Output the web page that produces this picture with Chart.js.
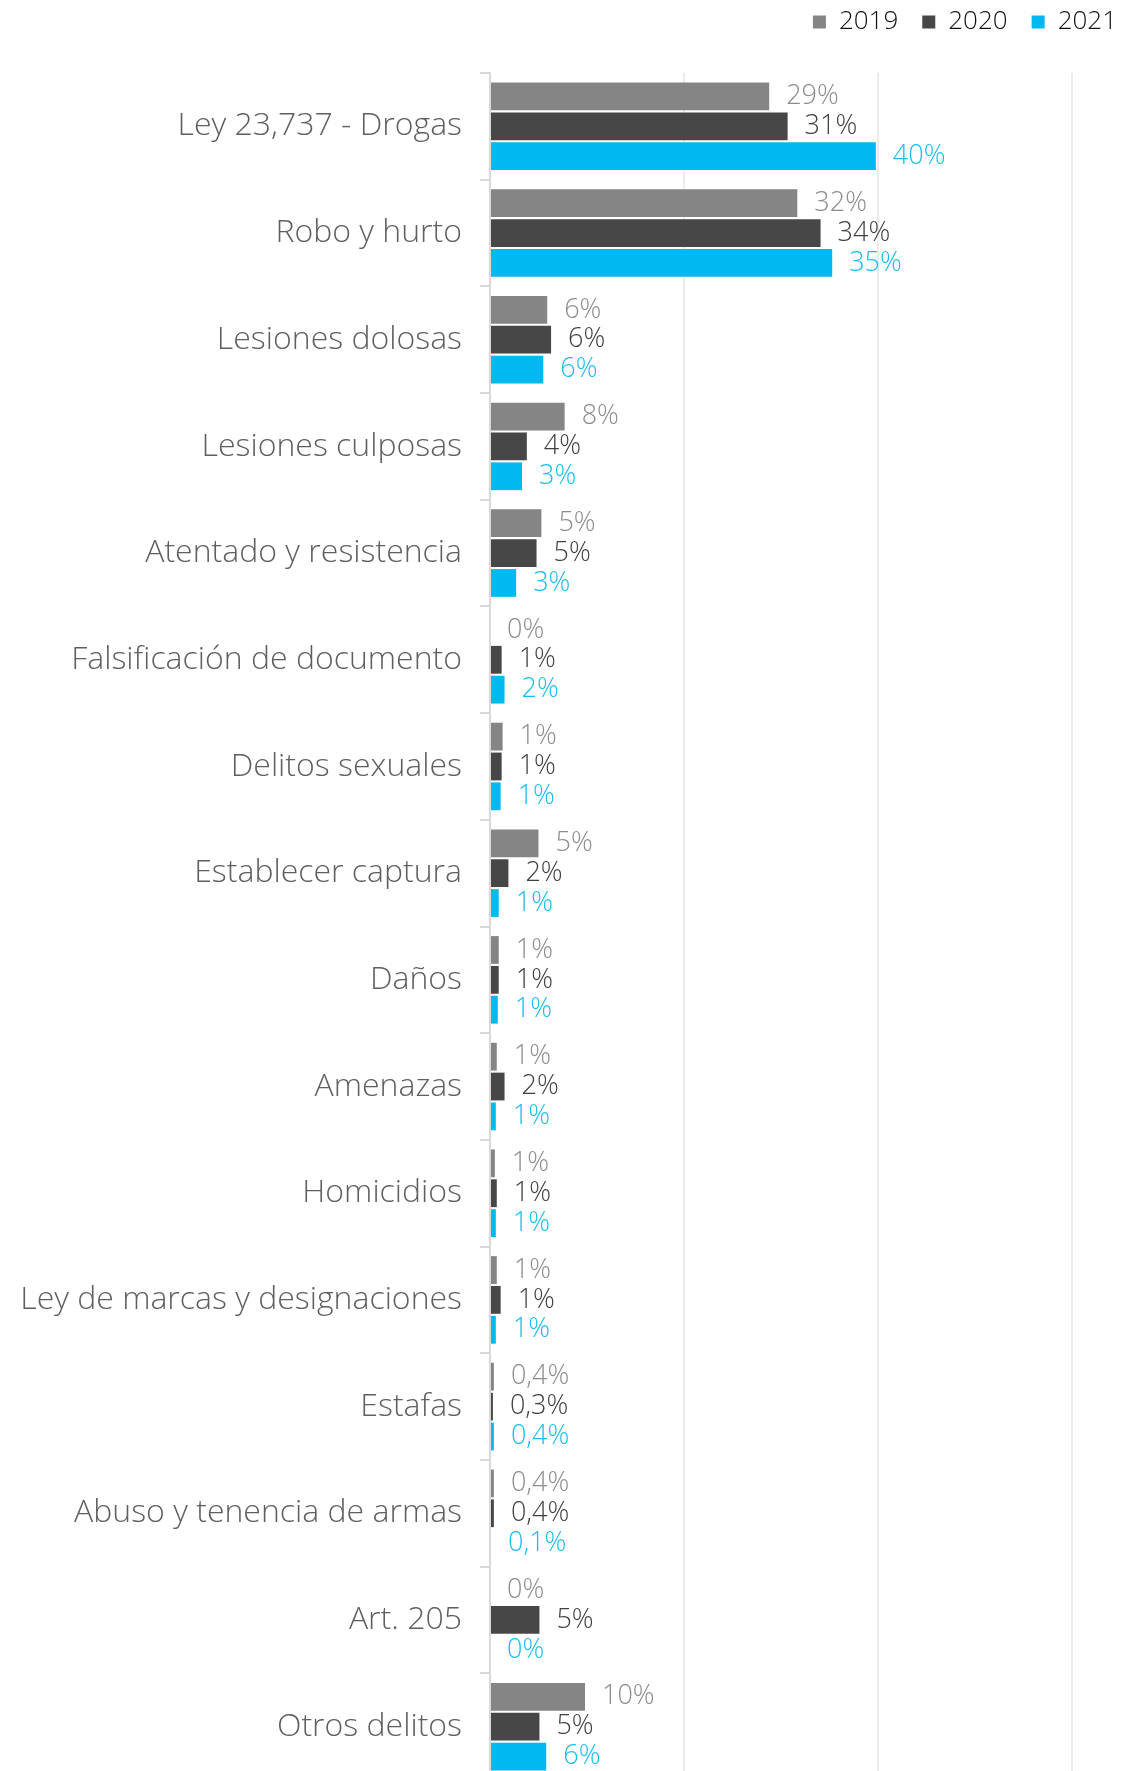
<!DOCTYPE html>
<html>
<head>
<meta charset="utf-8">
<script src="https://cdn.jsdelivr.net/npm/chart.js@4/dist/chart.umd.min.js"></script>
<style>
  body { margin: 0; background: #fff; overflow: hidden; }
  /* the plot runs a little past the bottom edge, as in the source image */
  #wrap { width: 1124px; height: 1771px; overflow: hidden; }
</style>
</head>
<body>
<div id="wrap"><canvas id="chart" width="1124" height="1780"></canvas></div>
<script>
// categories, top to bottom
var categories = [
  "Ley 23,737 - Drogas", "Robo y hurto", "Lesiones dolosas", "Lesiones culposas",
  "Atentado y resistencia", "Falsificación de documento", "Delitos sexuales",
  "Establecer captura", "Daños", "Amenazas", "Homicidios",
  "Ley de marcas y designaciones", "Estafas", "Abuso y tenencia de armas",
  "Art. 205", "Otros delitos"
];

// share of cases (%)
var values2019 = [28.8, 31.7, 5.9, 7.7, 5.3, 0, 1.3, 5.0, 0.9, 0.7, 0.5, 0.7, 0.4, 0.4, 0, 9.8];
var values2020 = [30.7, 34.1, 6.3, 3.8, 4.8, 1.2, 1.2, 1.9, 0.9, 1.5, 0.7, 1.1, 0.3, 0.4, 5.1, 5.1];
var values2021 = [39.8, 35.3, 5.5, 3.3, 2.7, 1.5, 1.1, 0.9, 0.8, 0.6, 0.6, 0.6, 0.4, 0.1, 0, 5.8];

// labels as printed next to each bar
var text2019 = ["29%", "32%", "6%", "8%", "5%", "0%", "1%", "5%", "1%", "1%", "1%", "1%", "0,4%", "0,4%", "0%", "10%"];
var text2020 = ["31%", "34%", "6%", "4%", "5%", "1%", "1%", "2%", "1%", "2%", "1%", "1%", "0,3%", "0,4%", "5%", "5%"];
var text2021 = ["40%", "35%", "6%", "3%", "3%", "2%", "1%", "1%", "1%", "1%", "1%", "1%", "0,4%", "0,1%", "0%", "6%"];

var gridSteps = [0, 20, 40, 60];

var FONT = "'Open Sans', Lato, sans-serif";

var valueLabels = {
  id: "valueLabels",
  afterDatasetsDraw: function (chart) {
    var ctx = chart.ctx;
    ctx.save();
    ctx.font = "300 27px " + FONT;
    ctx.textAlign = "left";
    ctx.textBaseline = "middle";
    chart.data.datasets.forEach(function (ds, i) {
      var meta = chart.getDatasetMeta(i);
      ctx.fillStyle = ds.textColor;
      meta.data.forEach(function (bar, j) {
        ctx.fillText(ds.valueText[j], bar.x + 17, bar.y);
      });
    });
    ctx.restore();
  }
};

new Chart(document.getElementById("chart"), {
  type: "bar",
  data: {
    labels: categories,
    datasets: [
      { label: "2019", data: values2019, valueText: text2019, backgroundColor: "#858585", textColor: "#8c8c8c" },
      { label: "2020", data: values2020, valueText: text2020, backgroundColor: "#474747", textColor: "#404040" },
      { label: "2021", data: values2021, valueText: text2021, backgroundColor: "#00b9f0", textColor: "#19bdf0" }
    ]
  },
  options: {
    indexAxis: "y",
    responsive: false,
    animation: false,
    layout: { padding: { left: 10, right: -17, top: -15, bottom: 0 } },
    datasets: {
      bar: { categoryPercentage: 0.84, barPercentage: 0.93 }
    },
    plugins: {
      legend: {
        position: "top",
        align: "end",
        labels: {
          boxWidth: 13,
          boxHeight: 13,
          padding: 24,
          color: "#111111",
          font: { family: FONT, size: 26, weight: "300" }
        }
      },
      tooltip: { enabled: false }
    },
    scales: {
      x: {
        position: "top",
        min: 0,
        max: 65.4,
        afterBuildTicks: function (scale) {
          scale.ticks = gridSteps.map(function (v) { return { value: v }; });
        },
        afterFit: function (scale) {
          scale.height = 28;
        },
        ticks: { display: false },
        border: { display: false },
        grid: { color: "#ececec", lineWidth: 2, drawTicks: false }
      },
      y: {
        afterFit: function (scale) {
          scale.width = 480;
          scale.paddingTop = 0;
          scale.paddingBottom = 0;
        },
        border: { color: "#d9d9d9", width: 2 },
        grid: { drawOnChartArea: false, color: "#d9d9d9", lineWidth: 2, tickLength: 10 },
        ticks: {
          padding: 18,
          color: "#5f5f5f",
          font: { family: FONT, size: 32, weight: "300" }
        }
      }
    }
  },
  plugins: [valueLabels]
});
</script>
</body>
</html>
